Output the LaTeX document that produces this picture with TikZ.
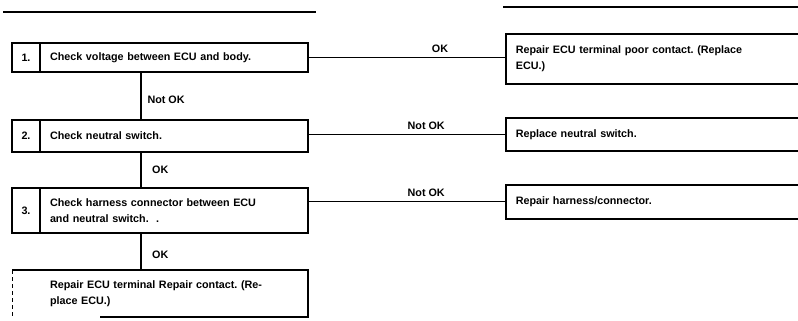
\documentclass[tikz,border=0pt]{standalone}
\usepackage{fontspec}
\setmainfont{Liberation Sans}
\frenchspacing
\usetikzlibrary{calc}
\tikzset{
  every picture/.style={font=\bfseries\fontsize{9.2}{14}\selectfont, line width=1.4pt},
  numcell/.style={draw, anchor=north east, minimum width=0.84cm, minimum height=#1, inner sep=0pt, outer sep=0pt},
  chk/.style={draw, anchor=north west, text width=7.44cm, align=left, inner xsep=0.3cm, minimum height=#1, outer sep=0pt},
  fix/.style={draw, anchor=north west, text width=9cm, align=left, inner xsep=0.3cm, minimum height=#1},
  wire/.style={line width=1.1pt},
  tag/.style={inner sep=1pt},
}

\begin{document}
\begin{tikzpicture}[x=0.03cm, y=-0.03cm]
  \useasboundingbox (0,0) rectangle (798,321);
  \clip (0,0) rectangle (798,321);
  % header rules
  \draw (3,12) -- (316,12);
  \draw (503,7) -- (798,7);
  % checks
  \node[chk=0.87cm] (c1) at (40,43) {Check voltage between ECU and body.};
  \node[chk=0.96cm] (c2) at (40,120) {Check neutral switch.};
  \node[chk=1.35cm] (c3) at (40,188) {Check harness connector between ECU\\and neutral switch. \ .};
  \foreach \i/\h in {1/0.87cm, 2/0.96cm, 3/1.35cm}
    \node[numcell=\h] (n\i) at (c\i.north west) {\i.};
  % final repair, left side broken
  \node[chk=1.41cm, draw=none] (fin) at (40,270) {Repair ECU terminal Repair contact. (Re-\\place ECU.)};
  \draw ($(fin.north west)+(-28,0)$) -- (fin.north east) -- (fin.south east) -- ($(fin.south west)+(60,0)$);
  \draw[dashed, line width=0.6pt] ($(fin.north west)+(-28,0)$) -- ($(fin.south west)+(-28,0)$);
  % fixes
  \node[fix=1.5cm] (r1) at (505,33) {Repair ECU terminal poor contact. (Replace\\ECU.)};
  \node[fix=1.0cm] (r2) at (505,117) {Replace neutral switch.};
  \node[fix=1.02cm] (r3) at (505,184) {Repair harness/connector.};
  % flow
  \coordinate (spine) at (141,0);
  \draw[wire] (c1.south -| spine) -- node[tag, right=4pt, pos=0.58] {Not OK} (c2.north -| spine);
  \draw[wire] (c2.south -| spine) -- node[tag, right=8pt] {OK} (c3.north -| spine);
  \draw[wire] (c3.south -| spine) -- node[tag, right=8pt, pos=0.6] {OK} (fin.north -| spine);
  \draw[wire] (c1.east) -- node[tag, above=3pt, pos=0.67] {OK} (c1.east -| r1.west);
  \draw[wire] (r2.west -| c2.east) -- node[tag, above=3pt, pos=0.6] {Not OK} (r2.west);
  \draw[wire] (r3.west -| c3.east) -- node[tag, above=3pt, pos=0.6] {Not OK} (r3.west);
\end{tikzpicture}
\end{document}
